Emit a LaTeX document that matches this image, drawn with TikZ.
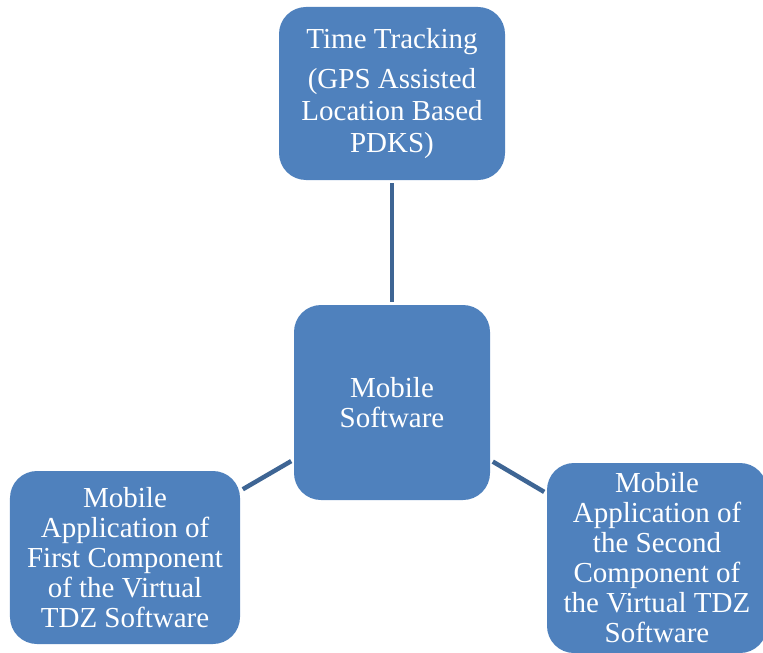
\documentclass[tikz,border=0pt]{standalone}
\usepackage{fontspec}
\setmainfont{Liberation Serif}
\usetikzlibrary{shapes}
\definecolor{boxblue}{RGB}{79,129,189}
\definecolor{linkblue}{RGB}{62,101,148}

\begin{document}
\begin{tikzpicture}[x=1bp,y=-1bp,
  blk/.style={fill=boxblue,rounded corners=27bp,text=white,align=center,inner sep=0pt,font=\fontsize{29bp}{30bp}\selectfont},
  lnk/.style={draw=linkblue,line width=4.5bp,shorten <=3bp,shorten >=3bp}]
\useasboundingbox (0,0) rectangle (763,653);
\clip (0,0) rectangle (763,653);
\node (M) at (392,402.5)[blk,minimum width=196bp,minimum height=195bp] {Mobile\\Software};
\node (T) at (392,93.5)[blk,minimum width=226bp,minimum height=173bp] {Time Tracking\\[10bp](GPS Assisted\\[2bp]Location Based\\[2bp]PDKS)};
\node (A1) at (125,557.5)[blk,minimum width=230bp,minimum height=173bp] {Mobile\\Application of\\First Component\\of the Virtual\\TDZ Software};
\node (A2) at (657,558)[blk,minimum width=220bp,minimum height=190bp] {Mobile\\Application of\\the Second\\Component of\\the Virtual TDZ\\Software};
\draw [lnk] (M) -- (T);
\draw [lnk] (M) -- (A1);
\draw [lnk] (M) -- (A2);
\end{tikzpicture}
\end{document}
